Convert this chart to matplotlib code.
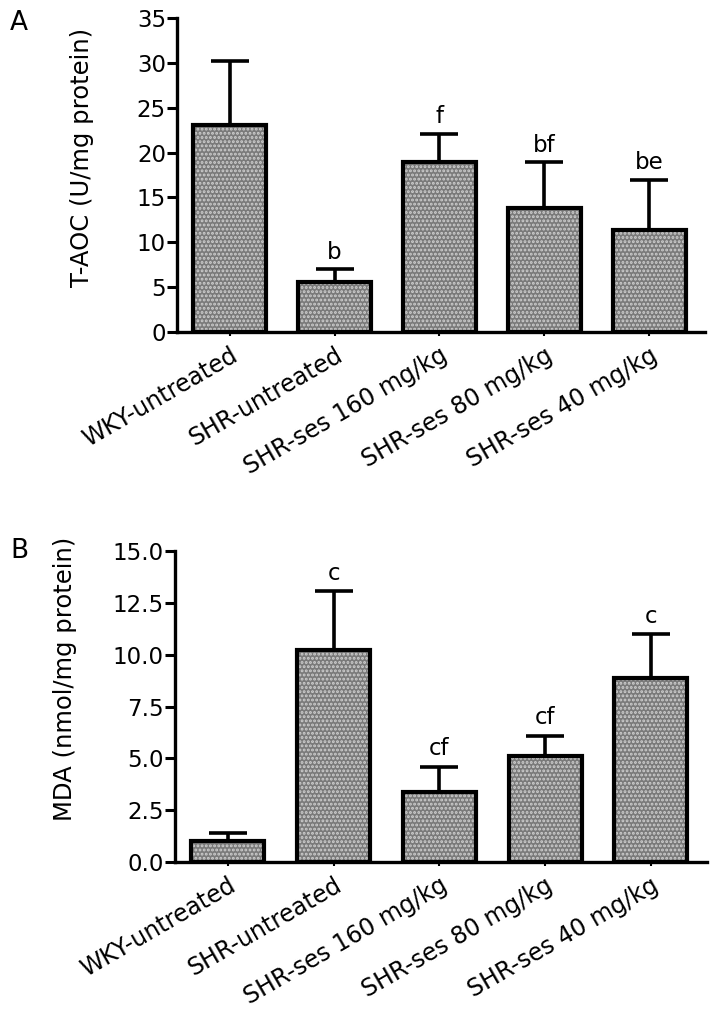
import matplotlib
matplotlib.use("Agg")
import matplotlib.pyplot as plt
import numpy as np

plt.rcParams['font.family'] = ['DejaVu Sans']
plt.rcParams['hatch.linewidth'] = 1.4

groups = ['WKY-untreated', 'SHR-untreated', 'SHR-ses 160 mg/kg',
          'SHR-ses 80 mg/kg', 'SHR-ses 40 mg/kg']

# panel A: T-AOC
taoc_mean = [23.1, 5.6, 18.9, 13.8, 11.4]
taoc_err = [7.1, 1.4, 3.2, 5.1, 5.6]
taoc_sig = ['', 'b', 'f', 'bf', 'be']

# panel B: MDA
mda_mean = [1.0, 10.25, 3.4, 5.1, 8.9]
mda_err = [0.4, 2.8, 1.2, 1.0, 2.1]
mda_sig = ['', 'c', 'cf', 'cf', 'c']

fig = plt.figure(figsize=(7.14, 10.16), dpi=100)
axA = fig.add_axes([0.248, 0.6732, 0.7395, 0.309])
axB = fig.add_axes([0.245, 0.1516, 0.745, 0.306])

fs = 16.5


def draw_panel(ax, mean, err, sig, ylim, yticks, ytl, ylabel, label_xy, sig_off):
    x = np.arange(len(groups))
    ax.bar(x, mean, width=0.69, color='#7a7a7a', hatch='....',
           edgecolor='#cfcfcf', linewidth=0, zorder=2)
    ax.bar(x, mean, width=0.69, fill=False, edgecolor='black',
           linewidth=3, zorder=3)
    ax.errorbar(x, mean, yerr=[np.zeros(len(mean)), err], fmt='none',
                ecolor='black', elinewidth=2.6, capsize=14, capthick=2.6,
                zorder=1)
    for xi, m, e, s in zip(x, mean, err, sig):
        if s:
            ax.text(xi, m + e + sig_off, s, ha='center', va='bottom',
                    fontsize=fs)
    ax.set_xlim(-0.5, 4.53)
    ax.set_ylim(*ylim)
    ax.set_yticks(yticks)
    ax.set_yticklabels(ytl, fontsize=fs)
    ax.set_xticks(x)
    ax.set_xticklabels(groups, fontsize=17, rotation=30, ha='right',
                       va='top', rotation_mode='anchor')
    for lbl in ax.get_xticklabels():
        lbl.set_x(lbl.get_position()[0])
    ax.tick_params(axis='y', length=7, width=2.2, pad=1)
    ax.tick_params(axis='x', length=3, width=1.5, pad=5)
    for side in ['top', 'right']:
        ax.spines[side].set_visible(False)
    for side in ['left', 'bottom']:
        ax.spines[side].set_linewidth(2.4)
    ax.set_ylabel(ylabel, fontsize=17.5)
    ax.yaxis.set_label_coords(*label_xy)


draw_panel(axA, taoc_mean, taoc_err, taoc_sig, (0, 35),
           [0, 5, 10, 15, 20, 25, 30, 35],
           ['0', '5', '10', '15', '20', '25', '30', '35'],
           'T-AOC (U/mg protein)', (-0.157, 0.557), 0.6)
draw_panel(axB, mda_mean, mda_err, mda_sig, (0, 15),
           [0, 2.5, 5, 7.5, 10, 12.5, 15],
           ['0.0', '2.5', '5.0', '7.5', '10.0', '12.5', '15.0'],
           'MDA (nmol/mg protein)', (-0.185, 0.59), 0.3)

fig.text(0.014, 0.99, 'A', fontsize=19, va='top')
fig.text(0.014, 0.47, 'B', fontsize=19, va='top')

fig.savefig('out.png', dpi=100)
